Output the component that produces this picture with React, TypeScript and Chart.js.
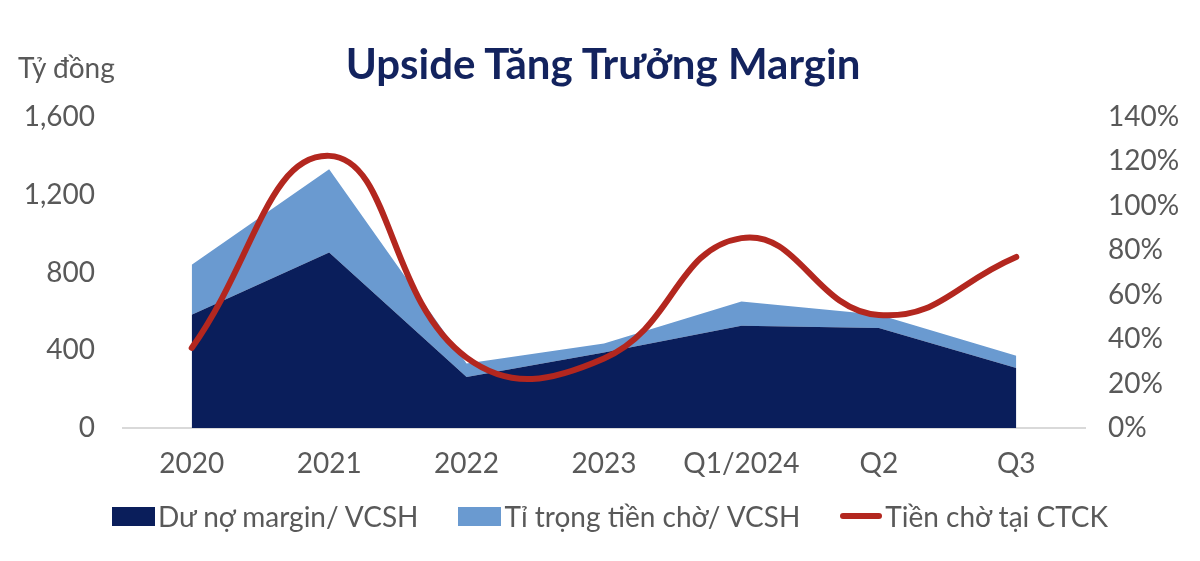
import React, { useEffect, useRef } from "react";
import { Chart, registerables } from "chart.js";

Chart.register(...registerables);

const categories = ["2020", "2021", "2022", "2023", "Q1/2024", "Q2", "Q3"];
// Dư nợ margin/ VCSH (%), right axis
const marginRatio = [51, 79, 23, 34, 46, 45, 27];
// Tỉ trọng tiền chờ/ VCSH (%), stacked on top of margin ratio
const cashRatio = [22.5, 37.5, 6, 4, 11, 6, 5.5];
// Tiền chờ tại CTCK (tỷ đồng), left axis
const cashAtBroker = [412, 1400, 362, 358, 977, 581, 880];

const leftMax = 1600;
const leftStep = 400;
const rightMax = 140;
const rightStep = 20;

const title = "Upside Tăng Trưởng Margin";
const unitLabel = "Tỷ đồng";
const seriesNames = ["Dư nợ margin/ VCSH", "Tỉ trọng tiền chờ/ VCSH", "Tiền chờ tại CTCK"];

const NAVY = "#0a1e5b";
const LIGHT = "#6a9ad0";
const RED = "#b3271f";
const GRAY = "#595959";
const FONT = "Lato, 'Open Sans', sans-serif";

export default function App() {
  const ref = useRef<HTMLCanvasElement | null>(null);

  useEffect(() => {
    if (!ref.current) return;
    const chart = new Chart(ref.current, {
      type: "line",
      data: {
        labels: categories,
        datasets: [
          {
            label: seriesNames[0],
            data: marginRatio,
            yAxisID: "y1",
            stack: "ratio",
            backgroundColor: NAVY,
            borderColor: NAVY,
            borderWidth: 0,
            pointRadius: 0,
            tension: 0,
            fill: "origin",
            order: 2,
          },
          {
            label: seriesNames[1],
            data: cashRatio,
            yAxisID: "y1",
            stack: "ratio",
            backgroundColor: LIGHT,
            borderColor: LIGHT,
            borderWidth: 0,
            pointRadius: 0,
            tension: 0,
            fill: "-1",
            order: 3,
          },
          {
            label: seriesNames[2],
            data: cashAtBroker,
            yAxisID: "y",
            borderColor: RED,
            backgroundColor: RED,
            borderWidth: 6,
            pointRadius: 0,
            tension: 0.45,
            fill: false,
            borderCapStyle: "round",
            order: 1,
          },
        ],
      },
      options: {
        animation: false,
        responsive: false,
        devicePixelRatio: 1,
        layout: { padding: { top: 117, bottom: 73, left: 0, right: 0 } },
        plugins: {
          legend: { display: false },
          title: { display: false },
          tooltip: { enabled: false },
        },
        scales: {
          x: {
            offset: true,
            grid: { display: false, drawTicks: false },
            border: { display: true, color: "#d9d9d9", width: 2 },
            ticks: {
              color: GRAY,
              font: { family: FONT, size: 28 },
              padding: 19,
              maxRotation: 0,
              autoSkip: false,
            },
            afterFit: (s: any) => {
              s.height = 60;
            },
          },
          y: {
            position: "left",
            min: 0,
            max: leftMax,
            grid: { display: false, drawTicks: false },
            border: { display: false },
            ticks: {
              stepSize: leftStep,
              color: GRAY,
              font: { family: FONT, size: 28 },
              padding: 28,
              callback: (v: any) => Number(v).toLocaleString("en-US"),
            },
            afterFit: (s: any) => {
              s.width = 123;
            },
          },
          y1: {
            position: "right",
            stacked: true,
            min: 0,
            max: rightMax,
            grid: { display: false, drawTicks: false },
            border: { display: false },
            ticks: {
              stepSize: rightStep,
              color: GRAY,
              font: { family: FONT, size: 28 },
              padding: 23,
              callback: (v: any) => `${v}%`,
            },
            afterFit: (s: any) => {
              s.width = 115;
            },
          },
        },
      },
    });
    return () => chart.destroy();
  }, []);

  const legendItems = [
    { name: seriesNames[0], color: NAVY, type: "box" },
    { name: seriesNames[1], color: LIGHT, type: "box" },
    { name: seriesNames[2], color: RED, type: "line" },
  ];

  return (
    <div
      style={{
        position: "absolute",
        left: 0,
        top: 0,
        width: 1200,
        height: 561,
        background: "#ffffff",
        fontFamily: FONT,
      }}
    >
      <canvas ref={ref} width={1200} height={561} style={{ position: "absolute", left: 0, top: 0 }} />
      <div
        style={{
          position: "absolute",
          left: 0,
          width: 1206,
          top: 38,
          textAlign: "center",
          fontSize: 42,
          fontWeight: 700,
          color: "#13235e",
          lineHeight: "normal",
          whiteSpace: "nowrap",
        }}
      >
        {title}
      </div>
      <div
        style={{
          position: "absolute",
          left: 18,
          top: 50,
          fontSize: 28,
          color: GRAY,
          lineHeight: "normal",
          whiteSpace: "nowrap",
        }}
      >
        {unitLabel}
      </div>
      <div
        style={{
          position: "absolute",
          left: 112,
          top: 499,
          display: "flex",
          alignItems: "center",
          fontSize: 28,
          color: GRAY,
          lineHeight: "normal",
          whiteSpace: "nowrap",
        }}
      >
        {legendItems.map((it, i) => (
          <div key={i} style={{ display: "flex", alignItems: "center", marginRight: i < 2 ? 40 : 0 }}>
            {it.type === "box" ? (
              <span style={{ display: "inline-block", width: 43, height: 19, background: it.color, marginRight: 3 }} />
            ) : (
              <span
                style={{ display: "inline-block", width: 42, height: 6, borderRadius: 3, background: it.color, marginRight: 3 }}
              />
            )}
            <span>{it.name}</span>
          </div>
        ))}
      </div>
    </div>
  );
}
